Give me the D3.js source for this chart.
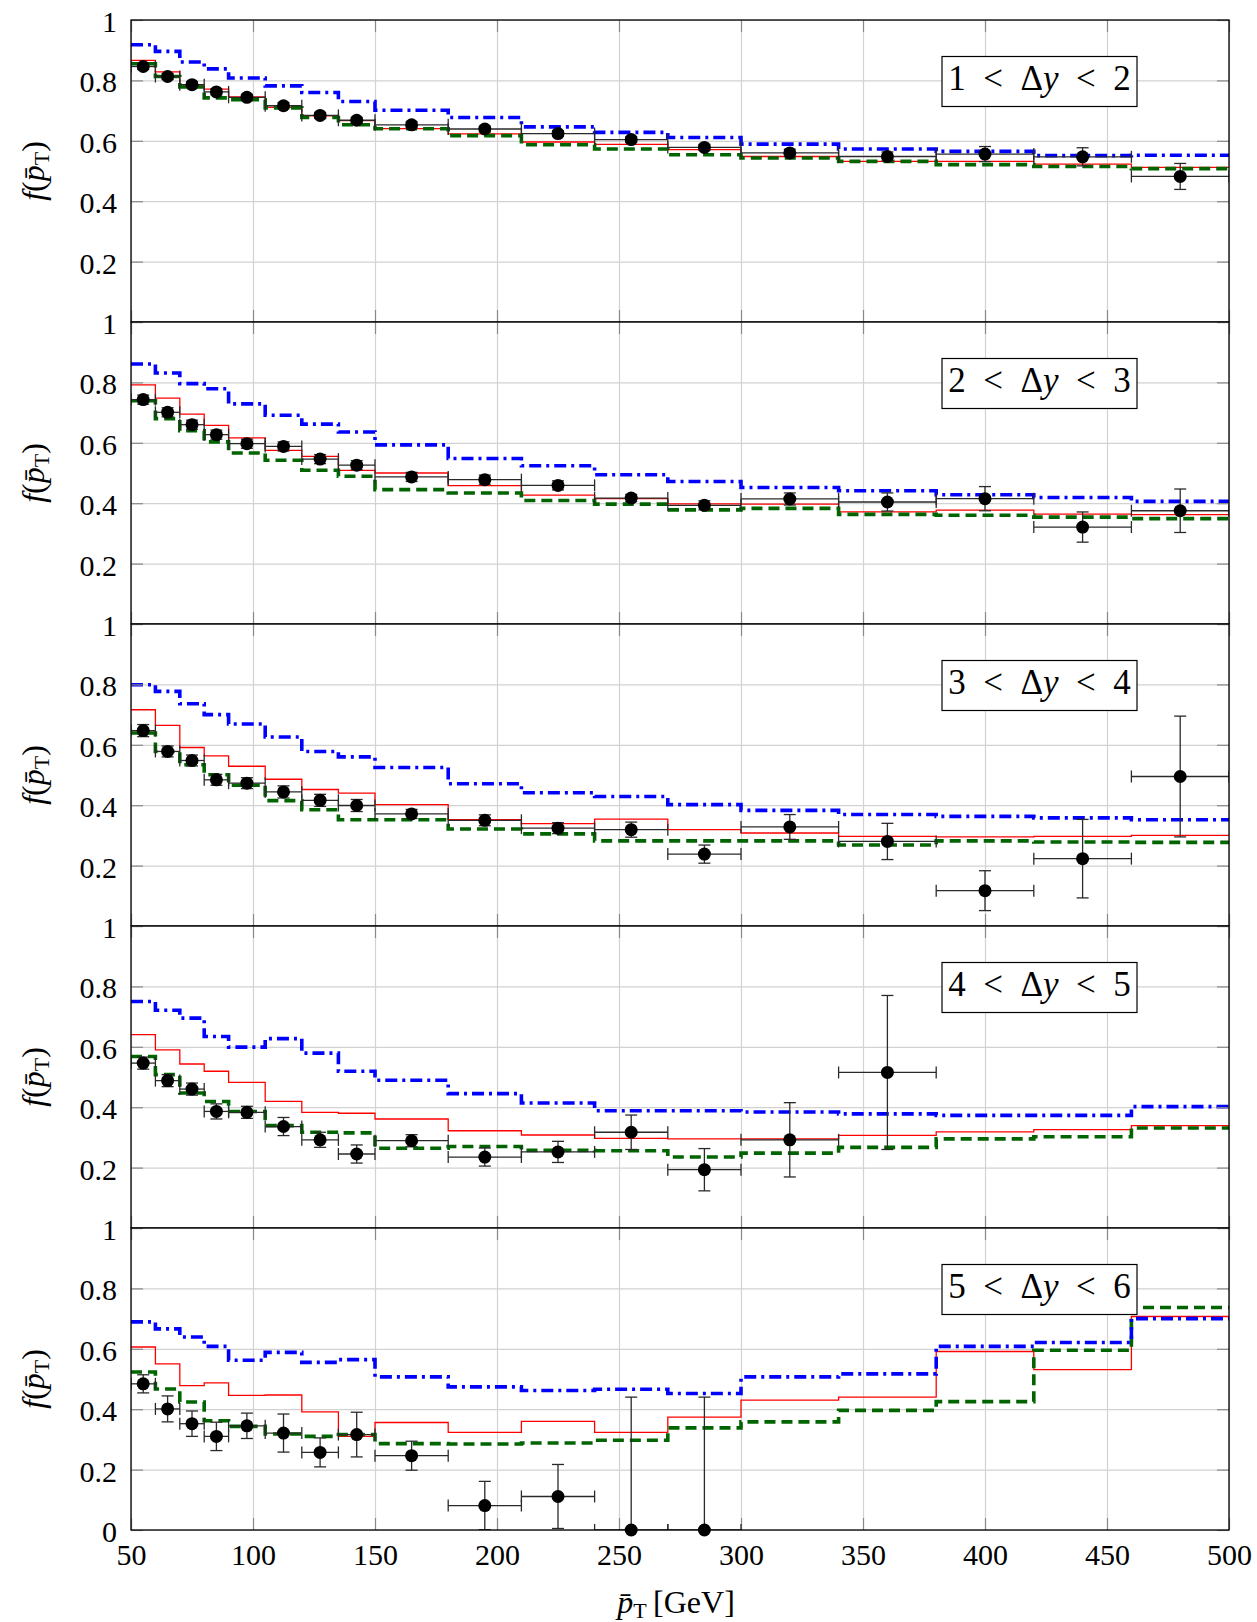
<!DOCTYPE html>
<html>
<head>
<meta charset="utf-8">
<script src="https://cdn.jsdelivr.net/npm/d3@7"></script>
<style>
html,body{margin:0;padding:0;background:#fff}
#chart text{font-family:'Liberation Serif','DejaVu Serif','Noto Serif','Times New Roman',Tinos,serif}
</style>
</head>
<body>
<svg id="chart" width="1257" height="1622"></svg>
<script>
// Bin edges and centres in mean pT (GeV)
const binEdges = [50, 60, 70, 80, 90, 105, 120, 135, 150, 180, 210, 240, 270, 300, 340, 380, 420, 460, 500];
const binCenters = [55, 65, 75, 85, 97.5, 112.5, 127.5, 142.5, 165, 195, 225, 255, 285, 320, 360, 400, 440, 480];
const rapidityRanges = [[1, 2], [2, 3], [3, 4], [4, 5], [5, 6]];
const xTicks = [50, 100, 150, 200, 250, 300, 350, 400, 450, 500];
const yTicks = [0, 0.2, 0.4, 0.6, 0.8, 1];

// Blue dash-dotted prediction, one row per rapidity range
const dashDotModel = [
  [0.918, 0.896, 0.861, 0.838, 0.808, 0.782, 0.760, 0.730, 0.701, 0.677, 0.646, 0.628, 0.611, 0.589, 0.573, 0.565, 0.551, 0.552],
  [0.861, 0.831, 0.796, 0.779, 0.729, 0.691, 0.662, 0.636, 0.593, 0.548, 0.524, 0.494, 0.472, 0.452, 0.441, 0.428, 0.419, 0.406],
  [0.799, 0.777, 0.736, 0.700, 0.669, 0.626, 0.578, 0.560, 0.525, 0.471, 0.441, 0.429, 0.402, 0.383, 0.369, 0.363, 0.358, 0.352],
  [0.750, 0.721, 0.695, 0.634, 0.599, 0.627, 0.579, 0.519, 0.489, 0.445, 0.414, 0.388, 0.388, 0.384, 0.378, 0.373, 0.373, 0.402],
  [0.689, 0.666, 0.639, 0.608, 0.562, 0.588, 0.555, 0.564, 0.507, 0.474, 0.462, 0.466, 0.452, 0.507, 0.517, 0.608, 0.621, 0.700]
];

// Red solid prediction
const solidModel = [
  [0.866, 0.828, 0.782, 0.771, 0.745, 0.711, 0.683, 0.667, 0.640, 0.623, 0.596, 0.588, 0.571, 0.548, 0.532, 0.532, 0.523, 0.512],
  [0.792, 0.748, 0.695, 0.658, 0.616, 0.575, 0.555, 0.509, 0.500, 0.458, 0.427, 0.415, 0.398, 0.397, 0.371, 0.377, 0.364, 0.362],
  [0.716, 0.664, 0.591, 0.563, 0.529, 0.486, 0.452, 0.440, 0.402, 0.352, 0.339, 0.354, 0.319, 0.308, 0.297, 0.295, 0.297, 0.300],
  [0.640, 0.590, 0.543, 0.519, 0.482, 0.419, 0.383, 0.380, 0.361, 0.322, 0.308, 0.297, 0.295, 0.295, 0.307, 0.318, 0.326, 0.339],
  [0.606, 0.550, 0.478, 0.487, 0.446, 0.447, 0.391, 0.310, 0.356, 0.323, 0.360, 0.323, 0.374, 0.430, 0.440, 0.591, 0.531, 0.707]
];

// Green dashed prediction
const dashedModel = [
  [0.855, 0.813, 0.778, 0.742, 0.736, 0.709, 0.677, 0.653, 0.640, 0.617, 0.587, 0.573, 0.554, 0.543, 0.532, 0.521, 0.515, 0.508],
  [0.739, 0.680, 0.640, 0.603, 0.566, 0.542, 0.509, 0.489, 0.445, 0.434, 0.409, 0.397, 0.378, 0.383, 0.363, 0.360, 0.354, 0.349],
  [0.639, 0.578, 0.534, 0.501, 0.466, 0.415, 0.385, 0.352, 0.352, 0.321, 0.305, 0.282, 0.282, 0.282, 0.268, 0.282, 0.278, 0.277],
  [0.568, 0.508, 0.447, 0.419, 0.386, 0.339, 0.317, 0.315, 0.264, 0.270, 0.257, 0.256, 0.235, 0.248, 0.267, 0.295, 0.302, 0.331],
  [0.523, 0.467, 0.424, 0.362, 0.343, 0.318, 0.310, 0.316, 0.286, 0.285, 0.288, 0.297, 0.338, 0.358, 0.396, 0.425, 0.595, 0.737]
];

// Measured fractions and their uncertainties
const measured = [
  [0.846, 0.813, 0.786, 0.762, 0.744, 0.716, 0.684, 0.668, 0.653, 0.639, 0.624, 0.604, 0.578, 0.560, 0.548, 0.556, 0.547, 0.482],
  [0.743, 0.701, 0.660, 0.627, 0.597, 0.588, 0.546, 0.526, 0.487, 0.478, 0.459, 0.417, 0.393, 0.414, 0.404, 0.415, 0.321, 0.375],
  [0.647, 0.578, 0.548, 0.484, 0.473, 0.444, 0.416, 0.399, 0.371, 0.350, 0.324, 0.319, 0.238, 0.328, 0.280, 0.117, 0.223, 0.495],
  [0.546, 0.488, 0.460, 0.386, 0.383, 0.336, 0.292, 0.245, 0.289, 0.235, 0.252, 0.317, 0.193, 0.292, 0.515],
  [0.484, 0.401, 0.352, 0.310, 0.345, 0.321, 0.257, 0.316, 0.246, 0.081, 0.111, 0, 0]
];
const measuredError = [
  [0.010, 0.010, 0.010, 0.010, 0.010, 0.010, 0.010, 0.010, 0.010, 0.010, 0.010, 0.010, 0.010, 0.012, 0.015, 0.025, 0.030, 0.043],
  [0.015, 0.015, 0.015, 0.015, 0.015, 0.015, 0.015, 0.015, 0.015, 0.015, 0.015, 0.012, 0.015, 0.020, 0.030, 0.040, 0.050, 0.072],
  [0.020, 0.018, 0.018, 0.018, 0.018, 0.020, 0.020, 0.020, 0.015, 0.018, 0.018, 0.025, 0.030, 0.041, 0.060, 0.066, 0.130, 0.200],
  [0.020, 0.020, 0.020, 0.025, 0.020, 0.030, 0.025, 0.030, 0.020, 0.030, 0.035, 0.057, 0.070, 0.123, 0.255],
  [0.030, 0.043, 0.042, 0.047, 0.042, 0.063, 0.048, 0.074, 0.048, 0.080, 0.106, 0.440, 0.440]
];

const svg = d3.select('#chart');
svg.append('rect').attr('width', 1257).attr('height', 1622).attr('fill', '#fff');

const left = 131, right = 1229, top0 = 20, panelH = 302, tickLen = 12;
const x = d3.scaleLinear().domain([50, 500]).range([left, right]);

const seriesStyles = [
  { values: solidModel, color: '#ff0000', width: 1.3, dash: null },
  { values: dashedModel, color: '#006400', width: 3.6, dash: '11,6' },
  { values: dashDotModel, color: '#0000ff', width: 3.6, dash: '12,5,3,5' }
];

function styleTicks(sel) {
  sel.select('.domain').remove();
  sel.selectAll('line').attr('stroke', '#8a8a8a').attr('stroke-width', 1.2);
  sel.attr('font-family', null).attr('font-size', 30);
  sel.selectAll('text').attr('fill', '#000');
}

rapidityRanges.forEach((rng, i) => {
  const top = top0 + i * panelH, bottom = top + panelH;
  const last = i === rapidityRanges.length - 1;
  const y = d3.scaleLinear().domain([0, 1]).range([bottom, top]);
  const g = svg.append('g');
  const clipId = 'panel-clip-' + i;
  svg.append('clipPath').attr('id', clipId).append('rect')
    .attr('x', left).attr('y', top).attr('width', right - left).attr('height', panelH);

  // grid
  const gx = g.append('g').attr('transform', `translate(0,${bottom})`)
    .call(d3.axisBottom(x).tickValues(xTicks).tickSize(-panelH).tickFormat(''));
  const gy = g.append('g').attr('transform', `translate(${left},0)`)
    .call(d3.axisLeft(y).tickValues(yTicks).tickSize(-(right - left)).tickFormat(''));
  [gx, gy].forEach(a => {
    a.select('.domain').remove();
    a.selectAll('line').attr('stroke', '#d2d2d2').attr('stroke-width', 1.2);
  });

  // step-histogram predictions
  const lines = g.append('g').attr('clip-path', `url(#${clipId})`);
  seriesStyles.forEach(s => {
    const vals = s.values[i];
    const pts = binEdges.map((e, k) => [e, vals[Math.min(k, vals.length - 1)]]);
    const line = d3.line().x(d => x(d[0])).y(d => y(d[1])).curve(d3.curveStepAfter);
    lines.append('path').attr('d', line(pts)).attr('fill', 'none')
      .attr('stroke', s.color).attr('stroke-width', s.width)
      .attr('stroke-dasharray', s.dash);
  });

  // inward ticks
  const axL = g.append('g').attr('transform', `translate(${left},0)`)
    .call(d3.axisLeft(y).tickValues(yTicks).tickSize(-tickLen).tickPadding(14)
      .tickFormat(d => (d === 0 && !last) ? '' : String(d)));
  styleTicks(axL);
  axL.selectAll('text').attr('dy', '0.38em');
  const axR = g.append('g').attr('transform', `translate(${right},0)`)
    .call(d3.axisRight(y).tickValues(yTicks).tickSize(-tickLen).tickFormat(''));
  styleTicks(axR);
  const axT = g.append('g').attr('transform', `translate(0,${top})`)
    .call(d3.axisTop(x).tickValues(xTicks).tickSize(-tickLen).tickFormat(''));
  styleTicks(axT);
  const axB = g.append('g').attr('transform', `translate(0,${bottom})`)
    .call(d3.axisBottom(x).tickValues(xTicks).tickSize(-tickLen).tickPadding(14)
      .tickFormat(d => last ? String(d) : ''));
  styleTicks(axB);

  // measured points with error bars
  const pts = measured[i].map((v, k) => ({
    v, e: measuredError[i][k], x0: binEdges[k], x1: binEdges[k + 1], xc: binCenters[k]
  }));
  const bars = g.append('g').attr('clip-path', `url(#${clipId})`)
    .attr('stroke', '#2a2a2a').attr('stroke-width', 1.3);
  const cap = 6;
  pts.forEach(p => {
    const py = y(p.v);
    bars.append('line').attr('x1', x(p.x0)).attr('x2', x(p.x1)).attr('y1', py).attr('y2', py);
    [p.x0, p.x1].forEach(xx => bars.append('line')
      .attr('x1', x(xx)).attr('x2', x(xx)).attr('y1', py - cap).attr('y2', py + cap));
    bars.append('line').attr('x1', x(p.xc)).attr('x2', x(p.xc))
      .attr('y1', y(p.v - p.e)).attr('y2', y(p.v + p.e));
    [p.v - p.e, p.v + p.e].forEach(vv => bars.append('line')
      .attr('x1', x(p.xc) - cap).attr('x2', x(p.xc) + cap).attr('y1', y(vv)).attr('y2', y(vv)));
  });
  g.append('g').selectAll('circle').data(pts).join('circle')
    .attr('cx', d => x(d.xc)).attr('cy', d => y(d.v)).attr('r', 6.5).attr('fill', '#000');

  // frame
  g.append('rect').attr('x', left).attr('y', top).attr('width', right - left).attr('height', panelH)
    .attr('fill', 'none').attr('stroke', '#000').attr('stroke-width', 1.3);

  // rapidity label
  const box = g.append('g');
  box.append('rect').attr('x', 942).attr('y', top + 36.5).attr('width', 195).attr('height', 50)
    .attr('fill', '#fff').attr('stroke', '#000').attr('stroke-width', 1.2);
  const lbl = box.append('text').attr('x', 1039.5).attr('y', top + 69.7)
    .attr('text-anchor', 'middle').attr('font-size', 35);
  lbl.append('tspan').text(`${rng[0]}\u2002<\u2002\u0394`);
  lbl.append('tspan').attr('font-style', 'italic').text('y');
  lbl.append('tspan').text(`\u2002<\u2002${rng[1]}`);

  // y-axis title
  const yt = g.append('text').attr('transform', `translate(44,${top + panelH / 2}) rotate(-90)`)
    .attr('text-anchor', 'middle').attr('font-size', 32);
  yt.append('tspan').attr('font-style', 'italic').text('f');
  yt.append('tspan').text('(');
  yt.append('tspan').attr('font-style', 'italic').text('p\u0304');
  yt.append('tspan').attr('font-size', 22).attr('dy', 5).text('T');
  yt.append('tspan').attr('dy', -5).text(')');
});

// x-axis title
const xt = svg.append('text').attr('x', 676).attr('y', 1613).attr('text-anchor', 'middle')
  .attr('font-size', 32);
xt.append('tspan').attr('font-style', 'italic').text('p\u0304');
xt.append('tspan').attr('font-size', 22).attr('dy', 5).text('T');
xt.append('tspan').attr('dy', -5).text('\u2009[GeV]');
</script>
</body>
</html>
